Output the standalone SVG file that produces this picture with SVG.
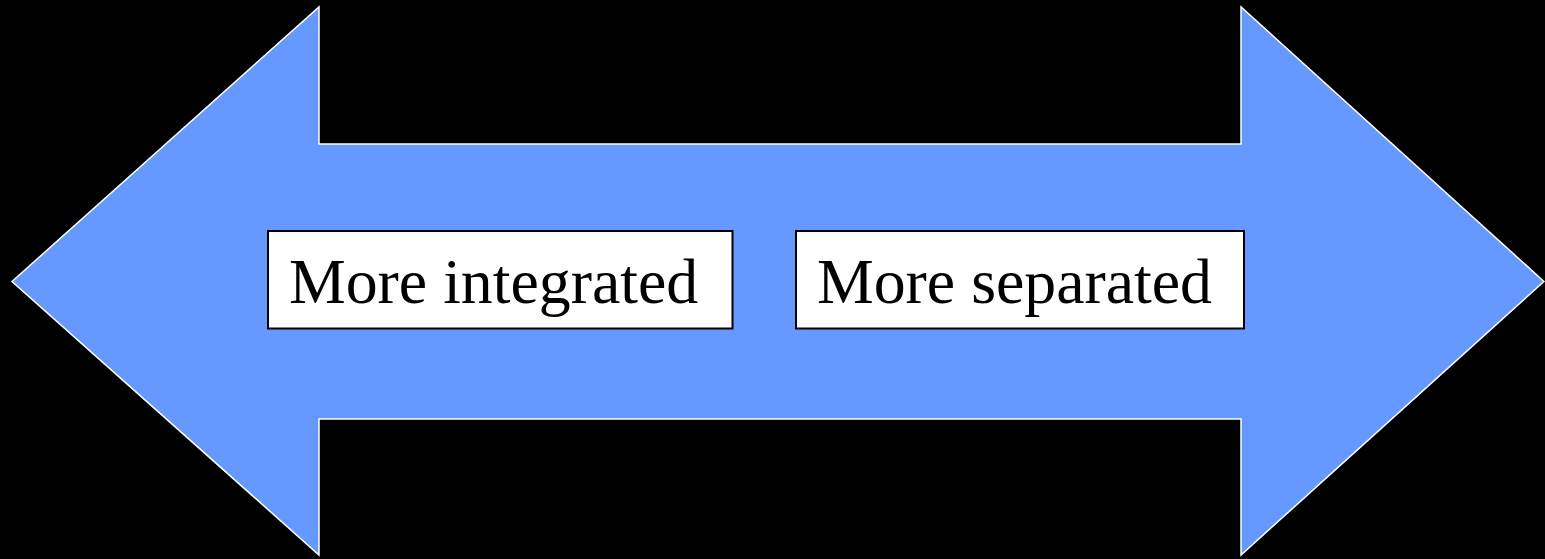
<svg xmlns="http://www.w3.org/2000/svg" width="1545" height="559" viewBox="0 0 1545 559">
<style>
.arrow{fill:#6699FF;stroke:#FFFFFF;stroke-width:1.5}
.box{fill:#FFFFFF;stroke:#000000;stroke-width:2}
.lbl{font-family:"Liberation Serif","Times New Roman",serif;font-size:63.8px;fill:#000000}
</style>
<rect x="0" y="0" width="1545" height="559" fill="#000000"/>
<g id="connectors">
<polygon class="arrow" points="12,281.5 319,7 319,144 1241,144 1241,7 1544,281.5 1241,555 1241,419 319,419 319,555"/>
</g>
<g id="node-integrated">
<rect class="box" x="268" y="231" width="464.5" height="97.5"/>
<text class="lbl" x="289" y="303">More integrated</text>
</g>
<g id="node-separated">
<rect class="box" x="796" y="231" width="448" height="97.5"/>
<text class="lbl" x="817" y="303">More separated</text>
</g>
</svg>
